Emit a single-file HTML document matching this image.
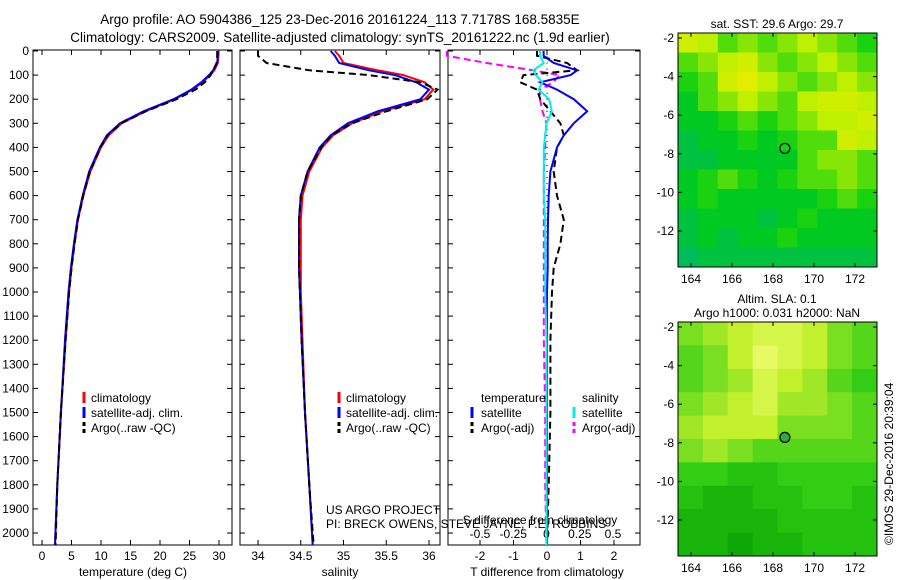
<!DOCTYPE html>
<html><head><meta charset="utf-8"><style>
body{margin:0;background:#fff;}
svg{display:block;font-family:"Liberation Sans",sans-serif;}
</style></head><body>
<svg id="c" width="900" height="580" viewBox="0 0 900 580">
<text x="340" y="24" font-size="13.5" text-anchor="middle">Argo profile: AO 5904386_125 23-Dec-2016 20161224_113 7.7178S 168.5835E</text>
<text x="340" y="42" font-size="13.5" text-anchor="middle">Climatology: CARS2009. Satellite-adjusted climatology: synTS_20161222.nc (1.9d earlier)</text>
<text transform="translate(893,545) rotate(-90)" font-size="12">©IMOS 29-Dec-2016 20:39:04</text>
</svg>
<script>
// ---------- data ----------
const depthTicks=[0,100,200,300,400,500,600,700,800,900,1000,1100,1200,1300,1400,1500,1600,1700,1800,1900,2000];
const depths=[0,20,50,80,100,130,160,200,250,300,350,400,500,600,700,800,900,1000,1200,1500,1800,2050];
const tempClim=[29.9,29.9,29.8,29.2,28.5,27.2,25.5,22.5,17.5,13.5,11.3,10.0,8.2,7.0,6.1,5.5,5.0,4.6,4.0,3.2,2.6,2.2];
const tempSat =[29.8,29.8,29.7,29.0,28.3,27.0,25.3,22.3,17.2,13.2,11.0,9.8,8.0,6.9,6.0,5.4,4.9,4.5,3.9,3.2,2.6,2.2];
const tempArgo=[29.7,29.7,29.6,29.0,28.6,27.6,26.0,22.8,17.6,13.4,11.1,9.9,8.1,7.0,6.1,5.5,5.0,4.6,4.0,3.2,2.6,2.3];
const salClim=[34.9,34.95,35.0,35.4,35.7,35.95,36.05,35.95,35.45,35.1,34.88,34.75,34.6,34.52,34.5,34.5,34.5,34.5,34.52,34.55,34.6,34.64];
const salSat =[34.85,34.9,34.95,35.3,35.6,35.85,36.0,35.9,35.4,35.05,34.85,34.72,34.58,34.5,34.48,34.48,34.48,34.49,34.51,34.55,34.6,34.64];
const salArgo=[34.0,34.0,34.1,34.6,35.3,35.9,36.1,35.98,35.5,35.1,34.86,34.74,34.58,34.5,34.48,34.48,34.48,34.49,34.51,34.55,34.6,34.65];
const tDiffSat =[-0.1,-0.1,0.2,0.9,0.7,-0.2,0.3,0.8,1.2,0.8,0.5,0.3,0.1,0.05,0.03,0.02,0.02,0.0,0.0,0.0,0.0,0.0];
const tDiffArgo=[-0.3,-0.3,0.6,0.9,-0.7,-0.8,-0.3,-0.2,0.1,0.4,0.5,0.3,0.2,0.3,0.5,0.4,0.2,0.15,0.1,0.1,0.05,0.0];
const sDiffSat =[-0.05,-0.05,-0.02,-0.1,-0.08,-0.03,-0.06,0.02,0.04,0.0,-0.01,-0.02,-0.02,-0.02,-0.01,-0.01,-0.01,-0.01,0.0,0.0,0.0,0.0];
const sDiffArgo=[-0.75,-0.75,-0.45,-0.1,0.1,0.05,-0.05,-0.05,-0.03,0.0,-0.01,-0.01,-0.02,-0.02,-0.02,-0.02,-0.02,-0.02,-0.02,-0.01,-0.01,0.0];
const tempTicks=[0,5,10,15,20,25,30];
const salTicks=[34,34.5,35,35.5,36];
const tdTicks=[-2,-1,0,1,2];
const sdTicks=[-0.5,-0.25,0,0.25,0.5];
const lonTicks=[164,166,168,170,172];
const latTicks=[-2,-4,-6,-8,-10,-12];
const sstGrid=[
[.8,.7,.5,.6,.5,.6,.7,.6,.5,.4],
[.5,.6,.7,.8,.6,.5,.6,.7,.6,.5],
[.4,.5,.8,.9,.7,.6,.5,.6,.7,.6],
[.3,.5,.6,.7,.6,.5,.7,.8,.8,.7],
[.3,.3,.4,.5,.4,.5,.6,.7,.7,.8],
[.2,.3,.3,.4,.3,.4,.5,.5,.8,.7],
[.2,.2,.3,.3,.3,.3,.5,.6,.6,.5],
[.3,.4,.5,.4,.3,.4,.5,.5,.6,.5],
[.3,.4,.3,.3,.3,.3,.3,.4,.5,.4],
[.2,.3,.3,.3,.2,.3,.4,.3,.3,.3],
[.2,.3,.2,.3,.3,.4,.3,.3,.3,.3],
[.1,.2,.2,.2,.2,.2,.2,.2,.2,.2]];
const slaGrid=[
[.6,.7,.8,.9,.9,.8,.6,.5],
[.5,.6,.8,1,.9,.8,.6,.5],
[.5,.6,.7,.9,.8,.7,.5,.4],
[.6,.7,.8,.9,.7,.7,.6,.5],
[.7,.8,.8,.8,.6,.6,.6,.5],
[.6,.7,.6,.5,.5,.5,.5,.5],
[.4,.4,.3,.3,.4,.4,.4,.4],
[.3,.2,.2,.3,.3,.4,.4,.3],
[.2,.2,.2,.2,.3,.3,.3,.3],
[.2,.2,.1,.2,.2,.3,.3,.3]];
const argoLon=[168.58], argoLat=[-7.72];

// ---------- helpers ----------
const NS="http://www.w3.org/2000/svg";
const svg=document.getElementById('c');
function mk(tag,at,parent){const e=document.createElementNS(NS,tag);for(const k in at)e.setAttribute(k,at[k]);(parent||svg).appendChild(e);return e;}
const yD=d=>51+d*0.241;
function lin(d0,d1,p0,p1){return v=>p0+(v-d0)*(p1-p0)/(d1-d0);}

function panel(name,x0,x1){
  const r=mk('rect',{x:x0,y:50,width:x1-x0,height:495,fill:'none',stroke:'#000','stroke-width':1});
  
  
  depthTicks.forEach(d=>{
    mk('line',{x1:x0,x2:x0+5,y1:yD(d),y2:yD(d),stroke:'#000'});
    mk('line',{x1:x1,x2:x1-5,y1:yD(d),y2:yD(d),stroke:'#000'});
  });
}
function xTicks(name,ticks,sx,x0,x1,ylab,fmt){
  ticks.forEach(t=>{
    const x=sx(t);
    mk('line',{x1:x,x2:x,y1:545,y2:540,stroke:'#000'});
    mk('line',{x1:x,x2:x,y1:50,y2:55,stroke:'#000'});
    const tx=mk('text',{x:x,y:ylab,'font-size':12,'text-anchor':'middle'});
    tx.textContent=fmt?fmt(t):t;
    
    
  });
}
function series(name,vals,sx,color,dash,w){
  const pts=vals.map((v,i)=>sx(v).toFixed(1)+','+yD(depths[i]).toFixed(1)).join(' ');
  const p=mk('polyline',{points:pts,fill:'none',stroke:color,'stroke-width':w||2,'stroke-dasharray':dash||'none'});
  
  
}
function txt(name,x,y,s,size,anchor){
  const t=mk('text',{x:x,y:y,'font-size':size||12,'text-anchor':anchor||'start'});
  t.textContent=s;
  
  
  return t;
}
function legSwatch(x,y,color,dash){mk('line',{x1:x,x2:x,y1:y-10,y2:y+1,stroke:color,'stroke-width':3,'stroke-dasharray':dash||'none'});}

depthTicks.forEach(d=>{ txt('depth-tick-label',29,yD(d)+4,String(d),12,'end'); });

// ---------- panel 1 temperature ----------
const sxT=lin(0,30,42,219);
panel('temperature-panel',33,232);
xTicks('temperature',tempTicks,sxT,33,232,560);
txt('temperature-x-title',133,576,'temperature (deg C)',12,'middle');
series('temp-climatology-line',tempClim,sxT,'#f00');
series('temp-satellite-line',tempSat,sxT,'#00f');
series('temp-argo-line',tempArgo,sxT,'#000','7,4');
legSwatch(84,402,'#f00');legSwatch(84,417,'#00f');legSwatch(84,432,'#000','4,3');
txt('legend-climatology',91,402,'climatology');
txt('legend-satellite-clim',91,417,'satellite-adj. clim.');
txt('legend-argo',91,432,'Argo(..raw -QC)');

// ---------- panel 2 salinity ----------
const sxS=lin(34,36,258,429);
panel('salinity-panel',240,440);
xTicks('salinity',salTicks,sxS,240,440,560);
txt('salinity-x-title',340,576,'salinity',12,'middle');
series('sal-climatology-line',salClim,sxS,'#f00');
series('sal-satellite-line',salSat,sxS,'#00f');
series('sal-argo-line',salArgo,sxS,'#000','7,4');
legSwatch(339,402,'#f00');legSwatch(339,417,'#00f');legSwatch(339,432,'#000','4,3');
txt('legend-climatology-2',346,402,'climatology');
txt('legend-satellite-clim-2',346,417,'satellite-adj. clim.');
txt('legend-argo-2',346,432,'Argo(..raw -QC)');
txt('us-argo-project',326,514,'US ARGO PROJECT');
txt('pi-names',326,528,'PI: BRECK OWENS, STEVE JAYNE, P.E. ROBBINS');

// ---------- panel 3 differences ----------
const sxTD=lin(-2,2,480,614);
const sxSD=lin(-0.5,0.5,480,613);
panel('difference-panel',448,640);
xTicks('t-diff',tdTicks,sxTD,448,640,560);
sdTicks.forEach(t=>{txt('s-diff-tick-label',sxSD(t),538,String(t),12,'middle');});
txt('s-diff-x-title',540,524,'S difference from climatology',12,'middle');
txt('t-diff-x-title',547,576,'T difference from climatology',12,'middle');
for(let d=0;d<=2000;d+=25){mk('circle',{cx:sxTD(0),cy:yD(d),r:0.6,fill:'#000'});}
series('s-diff-argo-line',sDiffArgo,sxSD,'#f0f','7,4');
series('t-diff-argo-line',tDiffArgo,sxTD,'#000','7,4');
series('t-diff-satellite-line',tDiffSat,sxTD,'#00f');
series('s-diff-satellite-line',sDiffSat,sxSD,'#0ee');
txt('legend-temperature-head',481,402,'temperature');
legSwatch(472,417,'#00f');legSwatch(472,432,'#000','4,3');
txt('legend-t-satellite',481,417,'satellite');
txt('legend-t-argo',481,432,'Argo(-adj)');
txt('legend-salinity-head',582,402,'salinity');
legSwatch(574,417,'#0ee');legSwatch(574,432,'#f0f','4,3');
txt('legend-s-satellite',582,417,'satellite');
txt('legend-s-argo',582,432,'Argo(-adj)');

// ---------- maps ----------
function lerp(a,b,t){return a.map((v,i)=>Math.round(v+(b[i]-v)*t));}
function ramp(stops,v){for(let i=1;i<stops.length;i++){if(v<=stops[i][0]){const t=(v-stops[i-1][0])/(stops[i][0]-stops[i-1][0]);const c=lerp(stops[i-1][1],stops[i][1],t);return 'rgb('+c.join(',')+')';}}const c=stops[stops.length-1][1];return 'rgb('+c.join(',')+')';}
const sstStops=[[0,[0,180,120]],[0.35,[0,205,20]],[0.7,[190,240,0]],[1,[245,235,0]]];
const slaStops=[[0,[0,155,0]],[0.4,[50,205,20]],[0.8,[195,240,45]],[1,[230,250,100]]];
function map(name,y0,y1,grid,stops,titleLines,circleFill){
  const x0=678,x1=877;
  const sx=lin(164,172,691,855), sy=lin(-2,-12,y0+5,y0+198);
  const rows=grid.length, cols=grid[0].length;
  const cw=(x1-x0)/cols, ch=(y1-y0)/rows;
  grid.forEach((row,r)=>row.forEach((v,c)=>{
    const e=mk('rect',{x:x0+c*cw,y:y0+r*ch,width:cw+0.5,height:ch+0.5,fill:ramp(stops,v)});
    
    
  }));
  const fr=mk('rect',{x:x0,y:y0,width:x1-x0,height:y1-y0,fill:'none',stroke:'#000'});
  
  
  lonTicks.forEach(t=>{const x=sx(t);mk('line',{x1:x,x2:x,y1:y1,y2:y1-4,stroke:'#000'});mk('line',{x1:x,x2:x,y1:y0,y2:y0+4,stroke:'#000'});txt(name+'-lon-label',x,y1+16,String(t),12,'middle');});
  latTicks.forEach(t=>{const y=sy(t);mk('line',{x1:x0,x2:x0+4,y1:y,y2:y,stroke:'#000'});mk('line',{x1:x1,x2:x1-4,y1:y,y2:y,stroke:'#000'});txt(name+'-lat-label',x0-4,y+4,String(t),12,'end');});
  titleLines.forEach((s,i)=>txt(name+'-title',777,y0-(titleLines.length-i)*14+9,s,12,'middle'));
  argoLon.forEach((lo,i)=>{const c=mk('circle',{cx:sx(lo),cy:sy(argoLat[i]),r:5,fill:circleFill,stroke:'#000','stroke-width':1.2});});
}
map('sst-map',33,267,sstGrid,sstStops,['sat. SST: 29.6 Argo: 29.7'],'none');
map('sla-map',322,556,slaGrid,slaStops,['Altim. SLA: 0.1','Argo h1000: 0.031 h2000: NaN'],'#3a3');
</script>
</body></html>
